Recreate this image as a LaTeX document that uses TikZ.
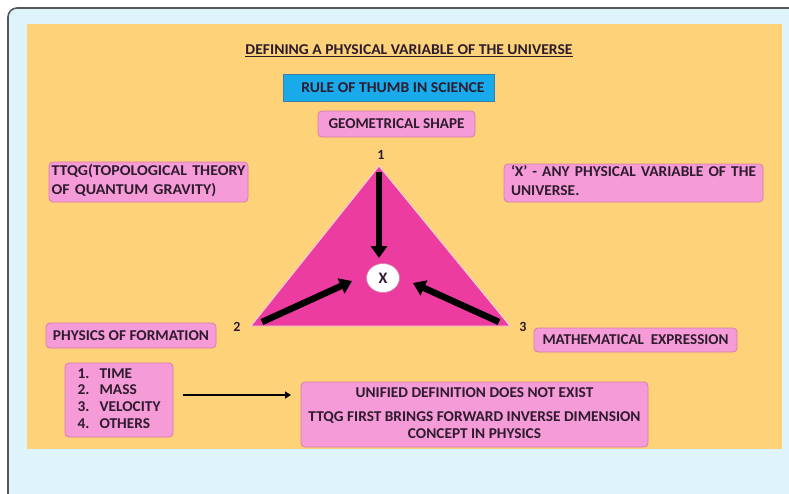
\documentclass[tikz,border=0pt]{standalone}
\usepackage{graphicx}
\usepackage{fontspec}
\setmainfont{Carlito}
\usetikzlibrary{arrows.meta,shapes.geometric}

\definecolor{paleblue}{HTML}{DFF3FA}
\definecolor{frameline}{HTML}{55585A}
\definecolor{panel}{HTML}{FDD278}
\definecolor{pinkfill}{HTML}{F59BD7}
\definecolor{pinkline}{HTML}{D67EA8}
\definecolor{skyfill}{HTML}{19AAEB}
\definecolor{skyline}{HTML}{3C7FA6}
\definecolor{trifill}{HTML}{EC3CA0}
\definecolor{ink}{HTML}{2D1B2E}

% set a label (or a block of lines) to a given width, keeping its height
\newcommand\fitw[2]{\resizebox{#1}{\height}{#2}}
\newcommand\leftlines[1]{\begin{tabular}{@{}l@{}}#1\end{tabular}}
\newcommand\midlines[1]{\begin{tabular}{@{}c@{}}#1\end{tabular}}

\tikzset{
  lbl/.style={font=\bfseries\fontsize{15}{16.5}\selectfont, text=ink, inner sep=0pt},
  vnum/.style={lbl, font=\bfseries\fontsize{14}{16}\selectfont},
  pinkbox/.style={lbl, fill=pinkfill, draw=pinkline, line width=0.8pt,
    rounded corners=4pt},
  skybox/.style={lbl, fill=skyfill, draw=skyline, line width=0.8pt},
  fatarrow/.style={line width=6.5pt, -{Triangle[length=12pt,width=16pt]}},
  thinarrow/.style={line width=2.8pt, -{Triangle[length=6pt,width=7pt]}},
}

\begin{document}
\begin{tikzpicture}[x=1pt,y=-1pt]
\useasboundingbox (0,0) rectangle (789,493);
\fill[white] (0,0) rectangle (789,493);

% outer frame and panel
\fill[paleblue, rounded corners=9pt] (8,520) -- (8,8) -- (820,8) -- (820,520) -- cycle;
\draw[frameline, line width=1.6pt, rounded corners=9pt] (8,520) -- (8,8) -- (820,8);
\fill[panel] (27,24) rectangle (782,449);

% heading
\node[lbl] (title) at (409,51)
  {\fitw{327pt}{\underline{DEFINING A PHYSICAL VARIABLE OF THE UNIVERSE}}};
\node[skybox, minimum width=211pt, minimum height=27pt] (rule) at (389,88)
  {\hspace{8pt}\fitw{183pt}{RULE OF THUMB IN SCIENCE}};
\node[pinkbox, minimum width=157pt, minimum height=26pt] (geo) at (396.5,124)
  {\fitw{136pt}{GEOMETRICAL SHAPE}};

% side notes
\node[pinkbox, minimum width=199pt, minimum height=40pt, align=left,
      text width=194pt] (ttqg) at (148.5,182)
  {\fitw{194pt}{\leftlines{TTQG(TOPOLOGICAL THEORY\\[2.5pt]OF QUANTUM GRAVITY)}}};
\node[pinkbox, minimum width=259pt, minimum height=38pt, align=left,
      text width=245pt] (xdef) at (633.5,183)
  {\fitw{245pt}{\leftlines{`X' - ANY PHYSICAL VARIABLE OF THE\\[2.5pt]UNIVERSE.}}};
\node[pinkbox, minimum width=170pt, minimum height=25pt] (phys) at (131,335.5)
  {\fitw{156pt}{PHYSICS OF FORMATION}};
\node[pinkbox, minimum width=203pt, minimum height=24pt] (math) at (635.5,340)
  {\fitw{186pt}{MATHEMATICAL\ \ EXPRESSION}};

% triangle with its three vertices pointing at X
\coordinate (v1) at (379,166);
\coordinate (v2) at (251,326);
\coordinate (v3) at (510,326);
\filldraw[fill=trifill, draw=white!75!trifill, line width=0.9pt]
  (v1) -- (v3) -- (v2) -- cycle;
\node[ellipse, fill=white, draw=pinkline, line width=0.6pt, minimum width=33pt,
      minimum height=29pt, inner sep=0pt, lbl, font=\bfseries\fontsize{16}{18}\selectfont]
  (x) at (383,278) {X};
\node[vnum] (n1) at (381,155) {1};
\node[vnum] (n2) at (237,327) {2};
\node[vnum] (n3) at (523,327) {3};

\coordinate (s1) at (379,172);
\coordinate (t1) at (379,258);
\coordinate (s2) at (262,322);
\coordinate (t2) at (352,281);
\coordinate (s3) at (499,322);
\coordinate (t3) at (413,283);
\draw[fatarrow] (s1) -- (t1);
\draw[fatarrow] (s2) -- (t2);
\draw[fatarrow] (s3) -- (t3);

% bottom row
\node[pinkbox, minimum width=108pt, minimum height=74pt, align=left,
      text width=83pt] (list) at (119,400)
  {\fitw{83pt}{\leftlines{1.\ \ TIME\\[0.2pt]2.\ \ MASS\\[0.2pt]3.\ \ VELOCITY\\[0.2pt]4.\ \ OTHERS}}};
\node[pinkbox, minimum width=347pt, minimum height=65pt] (unified) at (474.5,414.5)
  {\fitw{332pt}{\midlines{UNIFIED DEFINITION DOES NOT EXIST\\[7.5pt]
   TTQG FIRST BRINGS FORWARD INVERSE DIMENSION\\CONCEPT IN PHYSICS}}};
\coordinate (ls) at (183,395);
\coordinate (le) at (291,395);
\draw[thinarrow] (ls) -- (le);
\end{tikzpicture}
\end{document}
